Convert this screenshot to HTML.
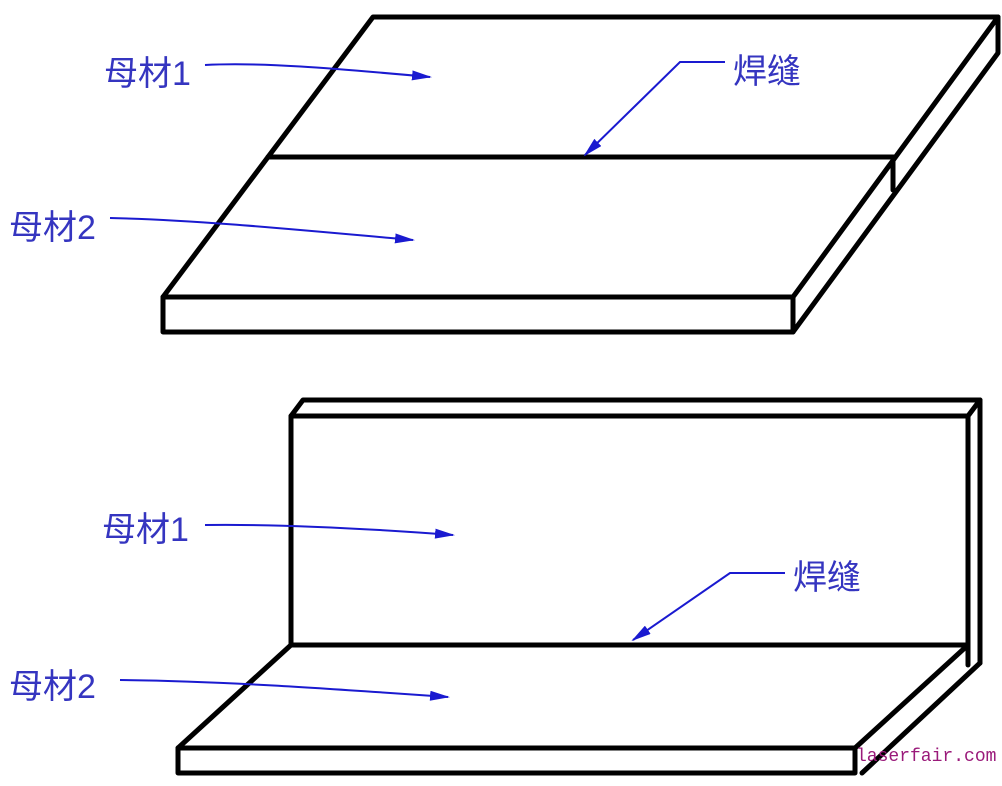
<!DOCTYPE html>
<html><head><meta charset="utf-8"><style>
html,body{margin:0;padding:0;background:#fff;}
svg{display:block}
text{font-family:"Liberation Sans","Noto Sans CJK SC",sans-serif;fill:#3535c0;font-size:34px;}
</style></head><body>
<svg width="1002" height="786" viewBox="0 0 1002 786" xmlns="http://www.w3.org/2000/svg">
<defs>
<marker id="b" markerWidth="20" markerHeight="10" refX="18" refY="5" orient="auto" markerUnits="userSpaceOnUse"><path d="M0,0 L20,5 L0,10 Z" fill="#1a1ad0"/></marker></defs>
<g fill="none" stroke="#000" stroke-width="5" stroke-linejoin="round" stroke-linecap="round">
<polygon points="373,17 998,17 793,297 163,297"/>
<line x1="268" y1="157" x2="893" y2="157"/>
<rect x="163" y="297" width="630" height="35"/>
<polyline points="998,17 998,53 793,332"/>
<line x1="893" y1="157" x2="893" y2="190"/>
<polygon points="303,400 980,400 968,416 291,416"/>
<rect x="291" y="416" width="677" height="229"/>
<polyline points="980,400 980,663"/>
<line x1="968" y1="645" x2="968" y2="665"/>
<polygon points="291,645 968,645 855,748 178,748"/>
<rect x="178" y="748" width="677" height="25"/>
<line x1="980" y1="663" x2="862" y2="773"/>
</g>
<g fill="none" stroke="#1a1ad0" stroke-width="2">
<path d="M205,65 C260,62 330,68 430,77" marker-end="url(#b)"/>
<path d="M110,218 C200,220 300,230 413,240" marker-end="url(#b)"/>
<path d="M725,62 L680,62 L585,155" marker-end="url(#b)"/>
<path d="M205,525 C280,524 360,528 453,535" marker-end="url(#b)"/>
<path d="M120,680 C220,681 320,688 448,697" marker-end="url(#b)"/>
<path d="M785,573 L730,573 L633,640" marker-end="url(#b)"/>
</g>
<text x="104" y="85">母材1</text>
<text x="9" y="239">母材2</text>
<text x="733" y="83">焊缝</text>
<text x="102" y="541">母材1</text>
<text x="9" y="698">母材2</text>
<text x="793" y="589">焊缝</text>
<text x="856" y="761" style="font-family:'Liberation Mono',monospace;font-size:18px;fill:#9a1a7a">laserfair.com</text>
</svg>
</body></html>
